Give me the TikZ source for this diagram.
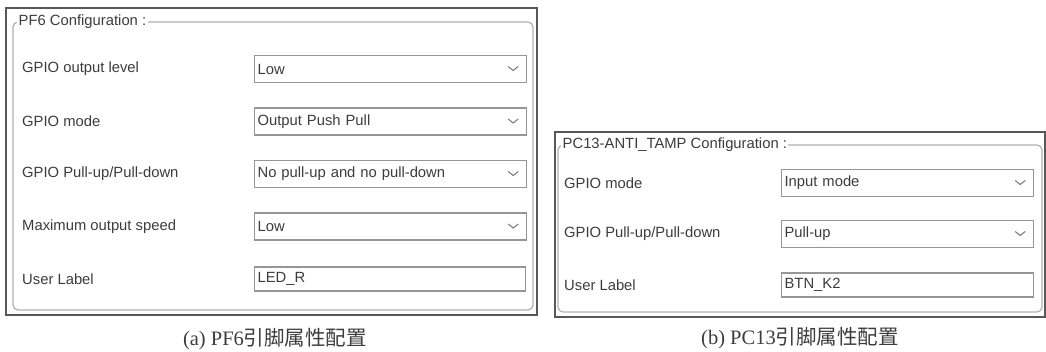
\documentclass[tikz,border=0pt]{standalone}
\usepackage{fontspec}
\setmainfont{Liberation Sans}
\newfontfamily\capfont{Liberation Serif}
\newfontfamily\cjkfont{Noto Sans CJK SC}
\usetikzlibrary{positioning}
\definecolor{FrameDark}{RGB}{88,88,88}
\definecolor{GroupGray}{RGB}{175,175,175}
\definecolor{BoxGray}{RGB}{150,150,150}
\definecolor{TextGray}{RGB}{60,60,60}
\definecolor{ChevGray}{RGB}{120,120,120}

\begin{document}
\begin{tikzpicture}[
      x=1pt,y=-1pt,
      outerFrame/.style={draw=FrameDark,line width=2pt},
      groupBox/.style={draw=GroupGray,line width=1.2pt,rounded corners=5pt},
      groupTitle/.style={fill=white,anchor=west,inner xsep=1.5pt,inner ysep=1pt,
                         text=TextGray,font=\fontsize{14.8}{16}\selectfont},
      rowLabel/.style={anchor=west,inner sep=0pt,text=TextGray,
                       font=\fontsize{14.8}{16}\selectfont},
      comboBox/.style={draw=BoxGray,line width=1.2pt,anchor=west,minimum height=27pt,
                       inner xsep=3pt,align=left,text=TextGray,
                       font=\fontsize{14.8}{16}\selectfont},
      editBox/.style={comboBox,minimum height=24pt},
      chev/.style={draw=ChevGray,line width=1pt},
      capText/.style={text=TextGray,font=\fontsize{20.5}{22}\selectfont}
    ]
    \useasboundingbox (0,0) rectangle (1046,351);

    % (a) PF6 panel
    \draw[outerFrame] (6,8) rectangle (537,315);
    \draw[groupBox] (13,22) rectangle (533,310);
    \node(pfTitle)[groupTitle] at (17,22) {PF6 Configuration :};

    \node(pfL1)[rowLabel] at (22,69) {GPIO output level};
    \node(pfL2)[rowLabel] at (22,121.5) {GPIO mode};
    \node(pfL3)[rowLabel] at (22,174) {GPIO Pull-up/Pull-down};
    \node(pfL4)[rowLabel] at (22,226.5) {Maximum output speed};
    \node(pfL5)[rowLabel] at (22,279) {User Label};

    \node(pfC1)[comboBox,text width=266pt] at (254,69) {Low};
    \node(pfC2)[comboBox,text width=266pt] at (254,121.5) {Output Push Pull};
    \node(pfC3)[comboBox,text width=266pt] at (254,174) {No pull-up and no pull-down};
    \node(pfC4)[comboBox,text width=266pt] at (254,226.5) {Low};
    \node(pfE5)[editBox,text width=265pt] at (254,279) {LED\_R};

    \draw[chev] ([xshift=-19pt,yshift=2.5pt]pfC1.east) -- ++(5,4) -- ++(5,-4);
    \draw[chev] ([xshift=-19pt,yshift=2.5pt]pfC2.east) -- ++(5,4) -- ++(5,-4);
    \draw[chev] ([xshift=-19pt,yshift=2.5pt]pfC3.east) -- ++(5,4) -- ++(5,-4);
    \draw[chev] ([xshift=-19pt,yshift=2.5pt]pfC4.east) -- ++(5,4) -- ++(5,-4);

    \node(capA)[capText] at (275,339) {{\capfont (a) PF6}{\cjkfont 引脚属性配置}};

    % (b) PC13 panel
    \draw[outerFrame] (555,132) rectangle (1045,317);
    \draw[groupBox] (558,145) rectangle (1042,312);
    \node(pcTitle)[groupTitle] at (561,145) {PC13-ANTI\_TAMP Configuration :};

    \node(pcL1)[rowLabel] at (564,183) {GPIO mode};
    \node(pcL2)[rowLabel] at (564,234) {GPIO Pull-up/Pull-down};
    \node(pcL3)[rowLabel] at (564,285) {User Label};

    \node(pcC1)[comboBox,text width=246pt] at (781,183) {Input mode};
    \node(pcC2)[comboBox,text width=246pt] at (781,234) {Pull-up};
    \node(pcE3)[editBox,text width=246pt] at (781,285) {BTN\_K2};

    \draw[chev] ([xshift=-19pt,yshift=2.5pt]pcC1.east) -- ++(5,4) -- ++(5,-4);
    \draw[chev] ([xshift=-19pt,yshift=2.5pt]pcC2.east) -- ++(5,4) -- ++(5,-4);

    \node(capB)[capText] at (800,338) {{\capfont (b) PC13}{\cjkfont 引脚属性配置}};
  \end{tikzpicture}
\end{document}
